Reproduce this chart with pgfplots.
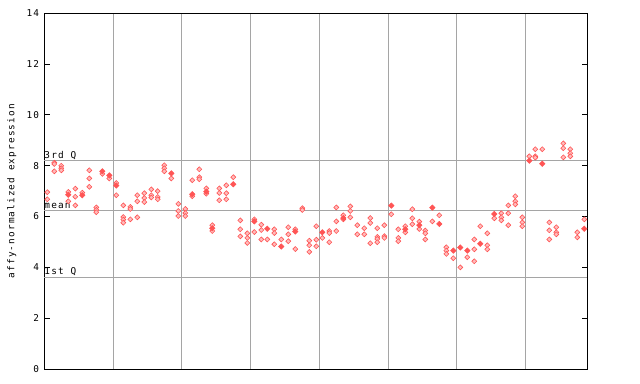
\documentclass[border=0pt]{standalone}
\usepackage{fontspec}
\setmainfont[LetterSpace=12]{DejaVu Sans Mono}
\usepackage{pgfplots}
\pgfplotsset{compat=1.18}
\usepackage{pgfplotstable}
\definecolor{mred}{RGB}{255,85,85}
\definecolor{mgrid}{RGB}{165,165,165}
\pgfplotstableread{
x y
47.3 6.96
47.3 6.68
54.3 8.12
54.3 8.07
54.3 7.78
61.3 8.00
61.3 7.90
61.3 7.82
68.3 6.97
68.3 6.60
75.3 7.10
75.3 6.78
75.3 6.44
82.3 6.94
89.3 7.82
89.3 7.50
89.3 7.17
96.3 6.36
96.3 6.26
96.3 6.17
102.3 7.68
109.3 7.50
116.3 7.32
116.3 6.84
123.3 6.44
123.3 5.98
123.3 5.88
123.3 5.76
130.3 6.38
130.3 6.30
130.3 5.89
137.3 6.84
137.3 6.60
137.3 5.97
144.3 6.92
144.3 6.73
144.3 6.57
151.3 7.07
151.3 6.84
151.3 6.75
157.7 7.00
157.7 6.77
157.7 6.68
164.3 8.02
164.3 7.90
164.3 7.78
171.3 7.50
178.3 6.50
178.3 6.22
178.3 6.02
185.3 6.30
185.3 6.14
185.3 6.02
192.3 7.43
192.3 6.80
199.3 7.86
199.3 7.55
199.3 7.47
206.3 7.11
206.3 6.90
212.3 5.66
212.3 5.43
219.3 7.11
219.3 6.93
219.3 6.64
226.3 7.23
226.3 6.92
226.3 6.68
233.3 7.55
240.3 5.85
240.3 5.50
240.3 5.22
247.3 5.34
247.3 5.16
247.3 4.96
254.3 5.89
254.3 5.39
261.3 5.68
261.3 5.47
261.3 5.10
267.3 5.10
274.3 5.50
274.3 5.35
274.3 4.91
281.3 5.10
288.3 5.58
288.3 5.30
288.3 5.03
295.3 5.50
295.3 4.72
302.3 6.33
302.3 6.26
309.3 5.05
309.3 4.87
309.3 4.61
316.3 5.62
316.3 5.09
316.3 4.83
322.3 5.16
329.3 5.43
329.3 5.35
329.3 4.99
336.3 6.36
336.3 5.81
336.3 5.43
343.3 6.05
343.3 5.89
350.3 6.40
350.3 6.22
350.3 5.97
357.3 5.66
357.3 5.30
364.3 5.54
364.3 5.30
370.3 5.94
370.3 5.75
370.3 4.95
377.3 5.54
377.3 5.20
377.3 5.12
377.3 4.99
384.3 5.66
384.3 5.23
384.3 5.16
391.3 6.09
398.3 5.50
398.3 5.16
398.3 5.03
405.3 5.62
405.3 5.38
412.3 6.29
412.3 5.93
412.3 5.70
419.3 5.80
419.3 5.51
425.3 5.45
425.3 5.34
425.3 5.10
432.3 5.81
439.3 6.05
446.3 4.79
446.3 4.66
446.3 4.53
453.3 4.36
460.3 4.00
467.3 4.40
474.3 5.10
474.3 4.71
474.3 4.24
480.3 5.62
487.3 5.34
487.3 4.87
487.3 4.71
494.3 5.93
501.3 6.13
501.3 5.97
501.3 5.85
508.3 6.44
508.3 6.13
508.3 5.66
515.3 6.80
515.3 6.60
515.3 6.48
522.3 5.97
522.3 5.77
522.3 5.62
529.3 8.37
535.3 8.65
535.3 8.37
535.3 8.32
542.3 8.65
549.3 5.77
549.3 5.46
549.3 5.10
556.3 5.58
556.3 5.38
556.3 5.30
563.3 8.88
563.3 8.69
563.3 8.33
570.3 8.65
570.3 8.49
570.3 8.37
577.3 5.38
577.3 5.18
584.3 5.89
}\hollow
\pgfplotstableread{
x y
68.3 6.86
82.3 6.84
102.3 7.78
109.3 7.62
116.3 7.22
171.3 7.70
192.3 6.88
206.3 6.98
212.3 5.54
233.3 7.27
254.3 5.81
267.3 5.52
281.3 4.82
295.3 5.41
322.3 5.38
343.3 5.94
391.3 6.43
405.3 5.50
419.3 5.66
432.3 6.35
439.3 5.71
453.3 4.66
460.3 4.78
467.3 4.66
480.3 4.93
494.3 6.10
529.3 8.20
542.3 8.08
584.3 5.52
}\solid
\begin{document}
\begin{tikzpicture}
\path[use as bounding box] (0,0) rectangle (640bp,384bp);
\begin{axis}[
  at={(44.3bp,15bp)}, anchor=south west,
  width=543bp, height=355.7bp, scale only axis,
  xmin=44.3, xmax=587.3, ymin=0, ymax=14,
  font=\fontsize{9.4bp}{10bp}\selectfont,
  /pgf/number format/assume math mode=true,
  axis line style={black, line width=1bp},
  xtick={113.3,181.3,250,319,388.3,456.3,525.3},
  xticklabels={}, xmajorgrids,
  x tick style={draw=none},
  ytick={0,2,4,6,8,10,12,14},
  ytick pos=both, tick align=inside,
  major tick length=5.7bp,
  y tick style={black, line width=1bp},
  yticklabel style={anchor=east, inner sep=0pt, xshift=-5bp},
  grid style={mgrid, line width=1bp},
  extra y ticks={3.62,6.22,8.22},
  extra y tick labels={},
  extra y tick style={grid=major, major tick length=0pt},
  ylabel={affy-normalized expression},
  ylabel style={at={(axis description cs:0,0.5)}, anchor=center, yshift=32.6bp},
  clip=false,
]
\addplot[only marks, mark=square*, mark size=1.75bp,
  mark options={rotate=45, draw=mred, fill=mred!40!white, line width=0.6bp}] table {\hollow};
\addplot[only marks, mark=square*, mark size=1.9bp,
  mark options={rotate=45, draw=mred, fill=mred, line width=0.6bp}] table {\solid};
\node[anchor=base west, inner sep=0pt] at (axis cs:44.3,8.3) {3rd Q};
\node[anchor=base west, inner sep=0pt] at (axis cs:44.3,6.3) {mean};
\node[anchor=base west, inner sep=0pt] at (axis cs:44.3,3.7) {1st Q};
\end{axis}
\end{tikzpicture}
\end{document}
